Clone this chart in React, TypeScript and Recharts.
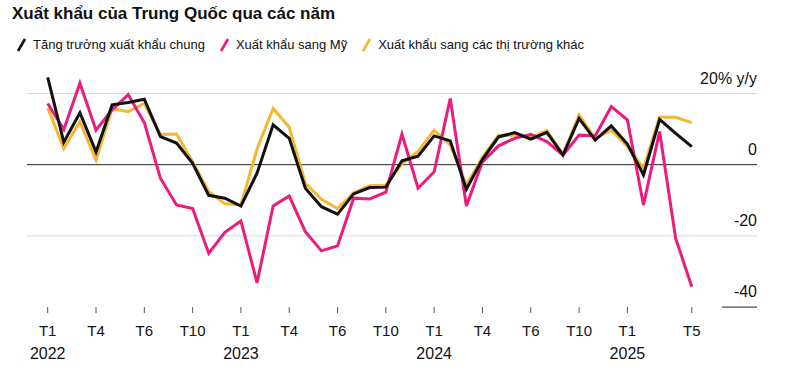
import React from 'react'
import { LineChart, Line, XAxis, YAxis, ReferenceLine } from 'recharts'

// monthly, Jan 2022 .. May 2025 (% y/y)
const months = Array.from({ length: 41 }, (_, i) => i)

const totalExports = [
  24.5, 6.3, 14.6, 3.6, 16.8, 17.5, 18.4, 7.9, 6.1, 0.4, -8.6, -9.4,
  -11.6, -2.4, 11.2, 7.4, -6.6, -11.8, -13.9, -8.2, -6.4, -6.3, 1.1, 2.4,
  8.1, 6.7, -6.9, 1.5, 7.8, 9.0, 7.2, 9.1, 2.7, 13.0, 6.9, 10.9,
  5.8, -2.9, 12.7, 8.8, 5.1,
]

const usExports = [
  17.2, 9.9, 22.9, 9.7, 15.4, 19.7, 11.8, -3.8, -11.3, -12.3, -24.9, -19.0,
  -15.8, -33.2, -11.6, -8.8, -18.8, -24.2, -22.8, -9.4, -9.6, -7.7, 8.6, -6.6,
  -2.0, 18.6, -11.6, 0.8, 5.3, 7.4, 8.5, 6.5, 2.7, 8.3, 8.1, 16.3,
  12.6, -11.3, 9.3, -20.7, -34.3,
]

const otherExports = [
  16.0, 4.6, 12.1, 1.3, 15.8, 14.9, 17.2, 8.5, 8.6, 0.8, -7.6, -11.0,
  -11.3, 4.4, 15.8, 10.5, -5.2, -9.7, -12.3, -7.9, -5.9, -5.7, 0.2, 3.7,
  9.7, 5.5, -5.7, 2.1, 8.3, 8.3, 7.6, 9.6, 3.0, 14.0, 7.4, 9.7,
  5.1, -1.0, 13.3, 13.3, 11.8,
]

const tickIdx = [0, 3, 6, 9, 12, 15, 18, 21, 24, 27, 30, 33, 36, 40]
const tickLabels = ['T1', 'T4', 'T6', 'T10', 'T1', 'T4', 'T6', 'T10', 'T1', 'T4', 'T6', 'T10', 'T1', 'T5']
const yearLabels: Record<number, string> = { 0: '2022', 12: '2023', 24: '2024', 36: '2025' }

const yTicks = [-40, -20, 0, 20]

const COLORS = {
  total: '#111111',
  us: '#ec1c7d',
  other: '#f6b632',
}

const data = months.map((i) => ({
  i,
  total: totalExports[i],
  us: usExports[i],
  other: otherExports[i],
}))

const FONT = '"Liberation Sans", Arial, sans-serif'

const XTick = (props: any) => {
  const { x, y, payload } = props
  const k = tickIdx.indexOf(payload.value)
  const year = yearLabels[payload.value]
  return (
    <g>
      <text x={x} y={y + 21} textAnchor="middle" fontSize={15} fill="#111" fontFamily={FONT}>
        {tickLabels[k]}
      </text>
      {year && (
        <text x={x} y={y + 44} textAnchor="middle" fontSize={16} fill="#111" fontFamily={FONT}>
          {year}
        </text>
      )}
    </g>
  )
}

const YTick = (props: any) => {
  const { x, y, payload } = props
  const v = payload.value
  return (
    <g>
      <text x={x} y={y - 10} textAnchor="end" fontSize={16} fill="#111" fontFamily={FONT}>
        {v === 20 ? '20% y/y' : String(v)}
      </text>
      {v === -40 && <line x1={x - 35} x2={x} y1={y} y2={y} stroke="#222" strokeWidth={1} />}
    </g>
  )
}

const LegendIcon = ({ color }: { color: string }) => (
  <svg width={11} height={15} style={{ display: 'block' }}>
    <line x1={2} y1={14} x2={9} y2={2} stroke={color} strokeWidth={2.6} />
  </svg>
)

const legendItems = [
  { label: 'Tăng trưởng xuất khẩu chung', color: COLORS.total },
  { label: 'Xuất khẩu sang Mỹ', color: COLORS.us },
  { label: 'Xuất khẩu sang các thị trường khác', color: COLORS.other },
]

export default function App() {
  return (
    <div
      style={{
        position: 'absolute',
        left: 0,
        top: 0,
        width: 800,
        height: 388,
        background: '#fff',
        fontFamily: FONT,
        color: '#111',
      }}
    >
      <div style={{ position: 'absolute', left: 12, top: 4, fontSize: 17, fontWeight: 700 }}>
        Xuất khẩu của Trung Quốc qua các năm
      </div>
      <div
        style={{
          position: 'absolute',
          left: 16,
          top: 37,
          display: 'flex',
          alignItems: 'center',
          gap: 14,
          fontSize: 13,
        }}
      >
        {legendItems.map((it) => (
          <div key={it.label} style={{ display: 'flex', alignItems: 'center', gap: 6 }}>
            <LegendIcon color={it.color} />
            <span>{it.label}</span>
          </div>
        ))}
      </div>
      <LineChart
        width={800}
        height={388}
        data={data}
        margin={{ top: 57.9, right: 0, left: 27, bottom: 30.9 }}
        style={{ position: 'absolute', left: 0, top: 0 }}
      >
        <XAxis
          dataKey="i"
          type="number"
          domain={[-1.286, 44.05]}
          ticks={tickIdx}
          interval={0}
          axisLine={false}
          tickLine={{ stroke: '#555' }}
          tickSize={6}
          height={50}
          tick={<XTick />}
        />
        <YAxis
          orientation="right"
          domain={[-40, 30]}
          ticks={yTicks}
          interval={0}
          width={43}
          axisLine={false}
          tickLine={false}
          tickSize={0}
          tickMargin={0}
          tick={<YTick />}
          allowDataOverflow
        />
        <ReferenceLine y={20} stroke="#d6d6d6" strokeWidth={1} />
        <ReferenceLine y={-20} stroke="#d6d6d6" strokeWidth={1} />
        <ReferenceLine y={0} stroke="#222" strokeWidth={1} />
        <Line
          dataKey="other"
          stroke={COLORS.other}
          strokeWidth={3}
          dot={false}
          type="linear"
          isAnimationActive={false}
        />
        <Line
          dataKey="us"
          stroke={COLORS.us}
          strokeWidth={3}
          dot={false}
          type="linear"
          isAnimationActive={false}
        />
        <Line
          dataKey="total"
          stroke={COLORS.total}
          strokeWidth={3}
          dot={false}
          type="linear"
          isAnimationActive={false}
        />
      </LineChart>
    </div>
  )
}
